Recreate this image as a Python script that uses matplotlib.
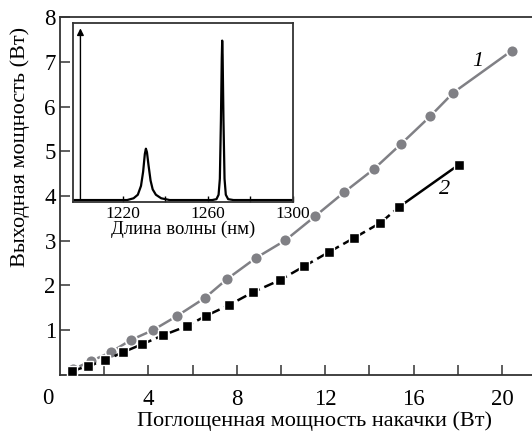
import matplotlib
matplotlib.use("Agg")
from matplotlib import pyplot as plt

plt.rcParams['font.family'] = ['Liberation Serif', 'DejaVu Serif']

# curve 1 (grey circles)
pump1 = [0.6, 1.4, 2.3, 3.2, 4.2, 5.3, 6.55, 7.55, 8.85, 10.2, 11.55, 12.85, 14.2, 15.45, 16.75, 17.8, 20.45]
power1 = [0.13, 0.31, 0.51, 0.78, 1.0, 1.32, 1.72, 2.14, 2.61, 3.01, 3.55, 4.08, 4.6, 5.17, 5.78, 6.31, 7.25]

# curve 2 (black squares)
pump2 = [0.55, 1.27, 2.05, 2.86, 3.73, 4.68, 5.73, 6.6, 7.64, 8.73, 9.95, 11.05, 12.18, 13.3, 14.5, 15.36, 18.05]
power2 = [0.09, 0.2, 0.33, 0.51, 0.69, 0.89, 1.09, 1.32, 1.56, 1.85, 2.12, 2.43, 2.75, 3.06, 3.4, 3.76, 4.7]

wl = [1196.5, 1222, 1225, 1227, 1228.5, 1229.5, 1230.3, 1230.8, 1231.3, 1232, 1233, 1234, 1235.5, 1238, 1242,
      1262, 1264, 1265, 1265.6, 1266.1, 1266.5, 1266.7, 1266.9, 1267.3, 1267.8, 1268.4, 1269.5, 1272, 1300]
inten = [0, 0, 0.01, 0.03, 0.08, 0.16, 0.26, 0.29, 0.27, 0.2, 0.11, 0.06, 0.03, 0.01, 0,
         0, 0.005, 0.03, 0.12, 0.45, 0.8, 0.9, 0.82, 0.45, 0.12, 0.03, 0.005, 0, 0]

xticks = [4, 8, 12, 16, 20]
yticks = [1, 2, 3, 4, 5, 6, 7, 8]
inset_ticks = [1220, 1260, 1300]

grey = '#808085'
spine_col = '#333333'

fig = plt.figure(figsize=(5.32, 4.32), dpi=100)
ax = fig.add_axes([0.1128, 0.132, 0.8872, 0.8286])

ax.plot(pump1, power1, '-', color=grey, lw=1.8, marker='o', ms=8.5,
        mfc=grey, mec='white', mew=1.2, zorder=3)
ax.plot(pump2[:-1], power2[:-1], color='black', lw=1.8, ls=(0, (4, 2)), marker='s', ms=7.5,
        mfc='black', mec='white', mew=1.0, zorder=4)
ax.plot(pump2[-2:], power2[-2:], color='black', lw=1.8, marker='s', ms=7.5,
        mfc='black', mec='white', mew=1.0, zorder=4)

ax.text(18.9, 7.0, '1', fontsize=16, style='italic', ha='center', va='center')
ax.text(17.4, 4.15, '2', fontsize=16, style='italic', ha='center', va='center')

ax.set_xlim(0, 21.36)
ax.set_ylim(0, 8)
ax.set_xticks(xticks)
ax.set_xticks([2, 6, 10, 14, 18], minor=True)
ax.set_yticks(yticks)
ax.tick_params(direction='in', labelsize=16.5, length=7, width=1.1, colors=spine_col, labelcolor='black')
ax.tick_params(axis='x', pad=10)
ax.tick_params(axis='y', pad=3)
ax.tick_params(which='minor', direction='in', length=7, width=1.1, colors=spine_col)
ax.spines['right'].set_visible(False)
for s in ['left', 'bottom', 'top']:
    ax.spines[s].set_linewidth(1.3)
    ax.spines[s].set_color(spine_col)
ax.text(-0.026, -0.037, '0', transform=ax.transAxes, fontsize=16.5, ha='center', va='top')
ax.set_xlabel('Поглощенная мощность накачки (Вт)', fontsize=16)
ax.set_ylabel('Выходная мощность (Вт)', fontsize=16)
ax.xaxis.set_label_coords(0.54, -0.1)
ax.yaxis.set_label_coords(-0.064, 0.637)

# inset
ins = fig.add_axes([0.1372, 0.532, 0.4135, 0.415])
ins.plot(wl, inten, color='black', lw=1.6)
ins.annotate('', xy=(1200, 0.985), xytext=(1200, -0.012),
             arrowprops=dict(arrowstyle='-|>', color='black', lw=1.0, mutation_scale=10))
ins.set_xlim(1196.5, 1300)
ins.set_ylim(-0.012, 1.0)
ins.set_xticks(inset_ticks)
ins.set_xticks([1240, 1280], minor=True)
ins.set_yticks([])
ins.tick_params(direction='in', labelsize=12.5, length=4, width=1, pad=3)
ins.tick_params(which='minor', direction='in', length=4, width=1)
for s in ins.spines.values():
    s.set_linewidth(1.3)
    s.set_color(spine_col)
ins.set_xlabel('Длина волны (нм)', fontsize=13.5, labelpad=-1)

fig.savefig('out.png', dpi=100)
